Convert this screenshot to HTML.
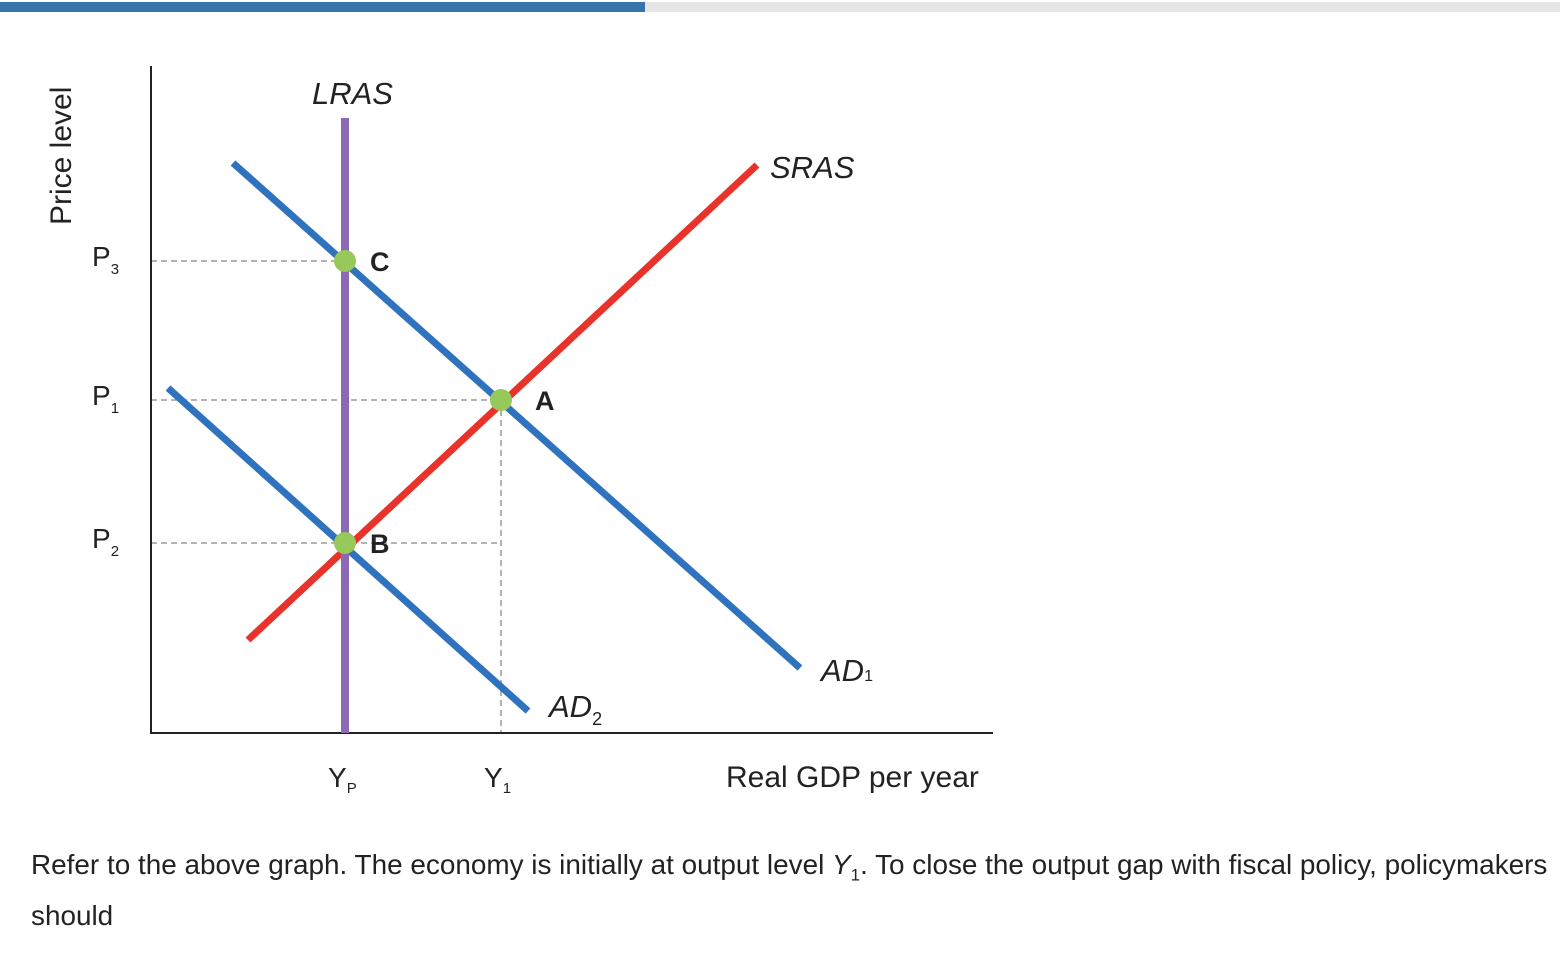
<!DOCTYPE html>
<html><head><meta charset="utf-8"><style>
body{margin:0;width:1560px;height:966px;background:#fff;overflow:hidden;font-family:"Liberation Sans",sans-serif}
</style></head><body>
<div style="position:absolute;left:0;top:2px;width:1560px;height:10px;background:#e6e6e6">
<div style="width:645px;height:10px;background:#3774ae"></div></div>
<svg id="chart" width="1560" height="820" style="position:absolute;left:0;top:0" font-family="Liberation Sans, sans-serif"></svg>
<div style="position:absolute;left:31px;top:845px;width:1529px;font-size:27.9px;line-height:40px;color:#222;white-space:nowrap">Refer to the above graph. The economy is initially at output level <i>Y</i><sub style="font-size:17px">1</sub>. To close the output gap with fiscal policy, policymakers<br>should</div>
<script>
const curveNames=['AD1','AD2','SRAS','LRAS'];
const curveX=[[82,649],[17,377],[97,606],[194,194]];
const curveY=[[570,65],[345,22],[93,568],[0,615]];
const pointNames=['C','A','B'];
const pointX=[194,350,194];
const pointY=[472,333,190];
const priceLabels=['P3','P1','P2'];
const priceVals=[472,333,190];
const outLabels=['Yp','Y1'];
const outVals=[194,350];
const OX=151,OY=733;
const sx=v=>OX+v, sy=v=>OY-v;
const svg=document.getElementById('chart');
const NS='http://www.w3.org/2000/svg';
function mk(t,a){const e=document.createElementNS(NS,t);for(const k in a)e.setAttribute(k,a[k]);svg.appendChild(e);return e;}
function txt(x,y,s,size,extra){const e=mk('text',Object.assign({x:x,y:y,'font-size':size,fill:'#222'},extra||{}));e.textContent=s;return e;}
priceVals.forEach((p,i)=>{const xe=i===0?outVals[0]:outVals[1];
 const l=mk('line',{x1:sx(0),y1:sy(p),x2:sx(xe),y2:sy(p),stroke:'#888','stroke-width':1.3,'stroke-dasharray':'6 4'});
 
 });
const gv=mk('line',{x1:sx(outVals[1]),y1:sy(pointY[1]),x2:sx(outVals[1]),y2:sy(0),stroke:'#888','stroke-width':1.3,'stroke-dasharray':'6 4'});


const ax=mk('path',{d:`M${sx(0)} 66 V${sy(0)} H993`,fill:'none',stroke:'#222','stroke-width':2});


const colors={AD1:'#2f72bd',AD2:'#2f72bd',SRAS:'#e8322a',LRAS:'#8c69b5'};
const widths={AD1:7,AD2:7,SRAS:7,LRAS:8};
curveNames.forEach((n,i)=>{const l=mk('line',{x1:sx(curveX[i][0]),y1:sy(curveY[i][0]),x2:sx(curveX[i][1]),y2:sy(curveY[i][1]),stroke:colors[n],'stroke-width':widths[n]});
 
 });
pointNames.forEach((n,i)=>{const c=mk('circle',{cx:sx(pointX[i]),cy:sy(pointY[i]),r:11,fill:'#96c85a'});
 
 
 const t=txt(sx(pointX[i])+(i===1?34:25),sy(pointY[i])+10,n,27,{'font-weight':'bold','text-anchor':'start'});
 
 });
priceLabels.forEach((s,i)=>{const t=mk('text',{x:92,y:sy(priceVals[i])+5,'font-size':28,fill:'#222'});
 t.innerHTML=s[0]+'<tspan font-size="15" dy="8">'+s[1]+'</tspan>';
 
 });
outLabels.forEach((s,i)=>{const t=mk('text',{x:sx(outVals[i])-17,y:787,'font-size':28,fill:'#222'});
 t.innerHTML=s[0]+'<tspan font-size="15" dy="6">'+(s[1]==='p'?'P':s[1])+'</tspan>';
 
 });
let t;
t=txt(312,104,'LRAS',31,{'font-style':'italic'});
t=txt(770,178,'SRAS',31,{'font-style':'italic'});
t=mk('text',{x:821,y:681,'font-size':31,'font-style':'italic',fill:'#222'});t.innerHTML='AD<tspan font-size="16" font-style="normal">1</tspan>';


t=mk('text',{x:549,y:717,'font-size':31,'font-style':'italic',fill:'#222'});t.innerHTML='AD<tspan font-size="18" dy="8" font-style="normal">2</tspan>';


t=txt(726,787,'Real GDP per year',30);
t=txt(0,0,'Price level',30,{transform:'translate(71,225) rotate(-90)'});
</script>
</body></html>
